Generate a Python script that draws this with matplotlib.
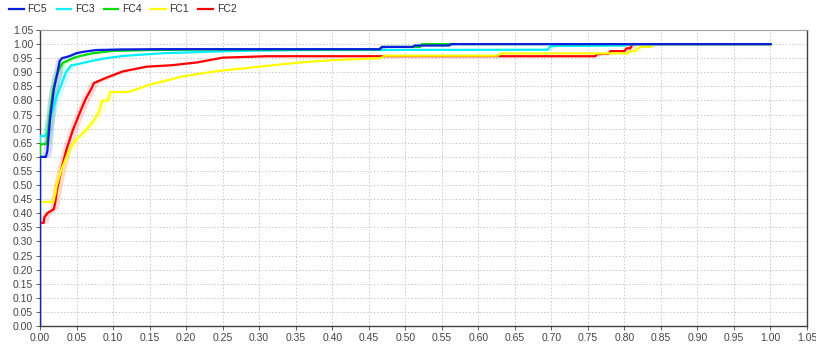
import numpy as np
import matplotlib
matplotlib.use("Agg")
import matplotlib.pyplot as plt

plt.rcParams["font.family"] = ["Liberation Sans", "DejaVu Sans"]

series_names = ["FC5", "FC3", "FC4", "FC1", "FC2"]
colors = {"FC5": "#0a1ee0", "FC3": "#00f0ff", "FC4": "#00dd00", "FC1": "#ffff00", "FC2": "#ff0000"}

fc5_x = [0, 0, 0.008, 0.010, 0.014, 0.019, 0.024, 0.027, 0.030, 0.040, 0.050, 0.060, 0.077, 0.11, 0.16, 0.465, 0.468, 0.51, 0.513, 0.56, 0.563, 1.0]
fc5_y = [0, 0.60, 0.60, 0.62, 0.74, 0.84, 0.90, 0.94, 0.95, 0.957, 0.968, 0.973, 0.979, 0.981, 0.982, 0.982, 0.99, 0.99, 0.995, 0.995, 1.0, 1.0]

fc4_x = [0, 0, 0.008, 0.010, 0.013, 0.018, 0.023, 0.027, 0.031, 0.037, 0.045, 0.055, 0.073, 0.10, 0.15, 0.22, 0.465, 0.468, 0.52, 0.523, 1.0]
fc4_y = [0, 0.645, 0.645, 0.66, 0.74, 0.84, 0.89, 0.915, 0.933, 0.94, 0.95, 0.958, 0.968, 0.976, 0.979, 0.981, 0.981, 0.99, 0.99, 1.0, 1.0]

fc3_x = [0, 0, 0.008, 0.011, 0.017, 0.022, 0.029, 0.036, 0.043, 0.048, 0.058, 0.07, 0.086, 0.113, 0.17, 0.27, 0.36, 0.695, 0.698, 0.70, 0.80, 0.81, 1.0]
fc3_y = [0, 0.674, 0.674, 0.70, 0.766, 0.808, 0.856, 0.903, 0.925, 0.927, 0.933, 0.94, 0.948, 0.958, 0.968, 0.976, 0.979, 0.98, 0.99, 0.993, 0.995, 1.0, 1.0]

fc1_x = [0, 0, 0.018, 0.021, 0.023, 0.029, 0.04, 0.049, 0.063, 0.074, 0.082, 0.085, 0.093, 0.096, 0.119, 0.127, 0.15, 0.196, 0.242, 0.30, 0.356, 0.40, 0.466, 0.472, 0.627, 0.63, 0.804, 0.807, 0.815, 0.818, 0.822, 0.836, 0.84, 1.0]
fc1_y = [0, 0.44, 0.44, 0.47, 0.50, 0.553, 0.624, 0.66, 0.695, 0.73, 0.766, 0.80, 0.80, 0.83, 0.83, 0.835, 0.856, 0.886, 0.904, 0.92, 0.935, 0.943, 0.95, 0.959, 0.959, 0.967, 0.967, 0.975, 0.975, 0.985, 0.99, 0.99, 1.0, 1.0]

fc2_x = [0, 0, 0.005, 0.006, 0.010, 0.019, 0.021, 0.023, 0.029, 0.036, 0.045, 0.056, 0.063, 0.070, 0.074, 0.09, 0.113, 0.146, 0.18, 0.215, 0.25, 0.31, 0.76, 0.763, 0.778, 0.781, 0.80, 0.803, 0.808, 0.811, 1.0]
fc2_y = [0, 0.366, 0.366, 0.385, 0.40, 0.415, 0.44, 0.48, 0.553, 0.624, 0.695, 0.766, 0.808, 0.84, 0.862, 0.88, 0.903, 0.92, 0.925, 0.935, 0.952, 0.957, 0.957, 0.965, 0.965, 0.975, 0.975, 0.985, 0.985, 1.0, 1.0]

data = {
    "FC5": (fc5_x, fc5_y),
    "FC3": (fc3_x, fc3_y),
    "FC4": (fc4_x, fc4_y),
    "FC1": (fc1_x, fc1_y),
    "FC2": (fc2_x, fc2_y),
}
draw_order = ["FC2", "FC1", "FC3", "FC4", "FC5"]

x_ticks = np.round(np.arange(0, 1.0501, 0.05), 2)
y_ticks = np.round(np.arange(0, 1.0501, 0.05), 2)

fig = plt.figure(figsize=(8.16, 3.47), dpi=100)
ax = fig.add_axes([0.049, 0.0605, 0.940, 0.853])


def curve_at(q, xs, ys):
    # evaluate the step-polyline (ignoring the vertical segment at x=0)
    return np.interp(q, xs[1:], ys[1:])


handles = {}
for name in draw_order:
    xs, ys = np.array(data[name][0]), np.array(data[name][1])
    d = 0.006
    xx = np.linspace(0.0, xs[-1], 2000)
    hi = curve_at(xx + d, xs, ys)
    lo = curve_at(np.clip(xx - d, 0, None), xs, ys)
    ax.fill_between(xx, lo, hi, color=colors[name], alpha=0.15, linewidth=0, zorder=2)
    (ln,) = ax.plot(xs, ys, color=colors[name], linewidth=1.6, zorder=3, solid_joinstyle="miter")
    handles[name] = ln

ax.set_xlim(0, 1.05)
ax.set_ylim(0, 1.05)
ax.set_xticks(x_ticks)
ax.set_yticks(y_ticks)
ax.set_xticklabels([f"{v:.2f}" for v in x_ticks])
ax.set_yticklabels([f"{v:.2f}" for v in y_ticks])
ax.tick_params(axis="both", labelsize=7.5, colors="#444444", length=3, width=0.6, pad=2)
ax.grid(True, color="#c8c8c8", linestyle=(0, (1.5, 2)), linewidth=0.7)
ax.set_axisbelow(True)
for side in ["left", "bottom", "right"]:
    ax.spines[side].set_color("#404040")
    ax.spines[side].set_linewidth(1.0)
ax.spines["top"].set_color("#a0a0a0")
ax.spines["top"].set_linewidth(0.8)

fig.legend([handles[n] for n in series_names], series_names, loc="upper left",
           bbox_to_anchor=(0.0, 1.015), ncol=5, frameon=False, fontsize=7.5,
           handlelength=1.4, handletextpad=0.35, columnspacing=0.9,
           labelcolor="#333333")

fig.savefig("out.png", dpi=100)
